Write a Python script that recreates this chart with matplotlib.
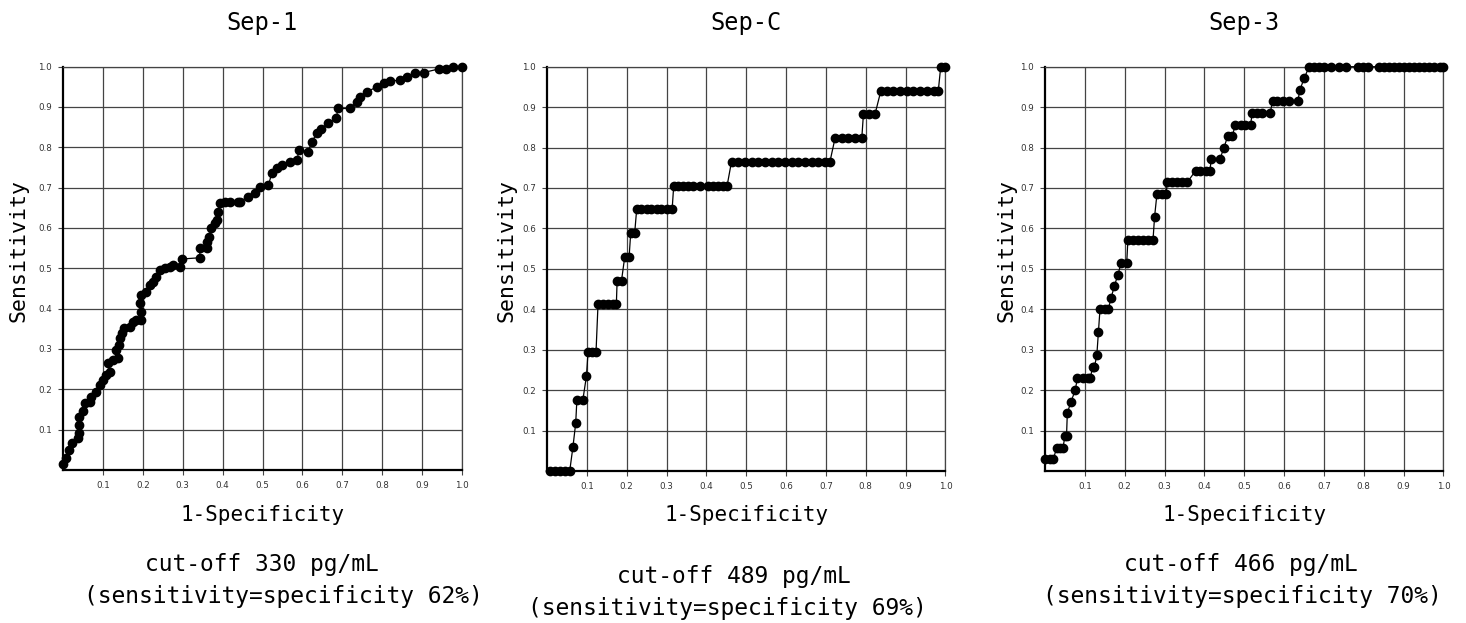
import matplotlib
matplotlib.use("Agg")
import matplotlib.pyplot as plt

# Sep-1 ROC points (1-specificity, sensitivity)
sep1_fpr = [0.0, 0.008, 0.016, 0.023, 0.037, 0.041, 0.041, 0.041, 0.05, 0.054, 0.067, 0.071, 0.083, 0.092,
            0.1, 0.108, 0.117, 0.113, 0.125, 0.138, 0.134, 0.14, 0.144, 0.149, 0.154, 0.167, 0.175, 0.184,
            0.196, 0.196, 0.192, 0.196, 0.209, 0.217, 0.225, 0.234, 0.242, 0.255, 0.268, 0.276, 0.293, 0.299,
            0.343, 0.343, 0.36, 0.361, 0.366, 0.372, 0.38, 0.385, 0.389, 0.393, 0.406, 0.418, 0.439, 0.443,
            0.464, 0.481, 0.494, 0.515, 0.523, 0.536, 0.548, 0.569, 0.586, 0.592, 0.615, 0.623, 0.637, 0.646,
            0.665, 0.685, 0.689, 0.72, 0.736, 0.745, 0.762, 0.787, 0.804, 0.82, 0.845, 0.862, 0.883, 0.904,
            0.942, 0.961, 0.978, 1.0]
sep1_tpr = [0.015, 0.03, 0.05, 0.067, 0.079, 0.092, 0.112, 0.132, 0.145, 0.166, 0.169, 0.182, 0.194, 0.21,
            0.223, 0.235, 0.244, 0.264, 0.273, 0.277, 0.297, 0.31, 0.326, 0.339, 0.351, 0.355, 0.368, 0.372,
            0.372, 0.392, 0.413, 0.434, 0.442, 0.458, 0.467, 0.479, 0.496, 0.5, 0.504, 0.508, 0.504, 0.523,
            0.526, 0.549, 0.549, 0.566, 0.578, 0.599, 0.611, 0.62, 0.64, 0.661, 0.665, 0.665, 0.665, 0.665,
            0.677, 0.686, 0.702, 0.706, 0.735, 0.748, 0.756, 0.764, 0.768, 0.793, 0.789, 0.814, 0.834, 0.845,
            0.859, 0.872, 0.896, 0.896, 0.913, 0.925, 0.937, 0.95, 0.958, 0.964, 0.966, 0.975, 0.985, 0.985,
            0.994, 0.994, 1.0, 1.0]

# Sep-C
sepc_fpr = [0.007, 0.019, 0.032, 0.044, 0.057, 0.065, 0.072, 0.075, 0.09, 0.099, 0.103, 0.113, 0.123,
            0.128, 0.141, 0.153, 0.166, 0.174, 0.176, 0.187, 0.195, 0.206, 0.21, 0.22, 0.225, 0.237, 0.25,
            0.262, 0.275, 0.287, 0.3, 0.314, 0.318, 0.329, 0.342, 0.354, 0.367, 0.384, 0.405, 0.417, 0.43,
            0.442, 0.452, 0.463, 0.48, 0.497, 0.514, 0.53, 0.547, 0.564, 0.58, 0.597, 0.614, 0.63, 0.647,
            0.664, 0.681, 0.697, 0.71, 0.723, 0.74, 0.756, 0.773, 0.79, 0.794, 0.809, 0.823, 0.838, 0.853,
            0.869, 0.886, 0.903, 0.919, 0.936, 0.953, 0.97, 0.982, 0.988, 1.0]
sepc_tpr = [0.0, 0.0, 0.0, 0.0, 0.0, 0.059, 0.118, 0.176, 0.176, 0.235, 0.294, 0.294, 0.294,
            0.412, 0.412, 0.412, 0.412, 0.412, 0.471, 0.471, 0.529, 0.529, 0.588, 0.588, 0.647, 0.647, 0.647,
            0.647, 0.647, 0.647, 0.647, 0.647, 0.706, 0.706, 0.706, 0.706, 0.706, 0.706, 0.706, 0.706, 0.706,
            0.706, 0.706, 0.765, 0.765, 0.765, 0.765, 0.765, 0.765, 0.765, 0.765, 0.765, 0.765, 0.765, 0.765,
            0.765, 0.765, 0.765, 0.765, 0.824, 0.824, 0.824, 0.824, 0.824, 0.882, 0.882, 0.882, 0.941, 0.941,
            0.941, 0.941, 0.941, 0.941, 0.941, 0.941, 0.941, 0.941, 1.0, 1.0]

# Sep-3
sep3_fpr = [0.0, 0.013, 0.021, 0.029, 0.037, 0.045, 0.05, 0.054, 0.056, 0.065, 0.076, 0.081, 0.096, 0.109,
            0.113, 0.12, 0.124, 0.13, 0.134, 0.138, 0.151, 0.159, 0.166, 0.174, 0.183, 0.191, 0.205, 0.208,
            0.221, 0.233, 0.246, 0.258, 0.271, 0.275, 0.281, 0.294, 0.304, 0.307, 0.319, 0.331, 0.344, 0.357,
            0.378, 0.39, 0.403, 0.414, 0.417, 0.439, 0.449, 0.459, 0.47, 0.478, 0.491, 0.503, 0.516, 0.52,
            0.533, 0.545, 0.565, 0.571, 0.583, 0.596, 0.612, 0.634, 0.64, 0.65, 0.663, 0.675, 0.688, 0.7,
            0.717, 0.738, 0.755, 0.785, 0.797, 0.81, 0.839, 0.851, 0.864, 0.876, 0.889, 0.902, 0.914, 0.927,
            0.939, 0.952, 0.964, 0.977, 0.99, 1.0]
sep3_tpr = [0.029, 0.029, 0.029, 0.057, 0.057, 0.057, 0.086, 0.086, 0.143, 0.171, 0.2, 0.229, 0.229, 0.229,
            0.229, 0.257, 0.257, 0.286, 0.343, 0.4, 0.4, 0.4, 0.429, 0.457, 0.486, 0.514, 0.514, 0.571,
            0.571, 0.571, 0.571, 0.571, 0.571, 0.629, 0.686, 0.686, 0.686, 0.714, 0.714, 0.714, 0.714, 0.714,
            0.743, 0.743, 0.743, 0.743, 0.771, 0.771, 0.8, 0.829, 0.829, 0.857, 0.857, 0.857, 0.857, 0.886,
            0.886, 0.886, 0.886, 0.914, 0.914, 0.914, 0.914, 0.914, 0.943, 0.971, 1.0, 1.0, 1.0, 1.0,
            1.0, 1.0, 1.0, 1.0, 1.0, 1.0, 1.0, 1.0, 1.0, 1.0, 1.0, 1.0, 1.0, 1.0,
            1.0, 1.0, 1.0, 1.0, 1.0, 1.0]

titles = ["Sep-1", "Sep-C", "Sep-3"]
cutoffs = ["cut-off 330 pg/mL", "cut-off 489 pg/mL", "cut-off 466 pg/mL"]
equal_points = ["(sensitivity=specificity 62%)", "(sensitivity=specificity 69%)",
                "(sensitivity=specificity 70%)"]
tick_vals = [0.1, 0.2, 0.3, 0.4, 0.5, 0.6, 0.7, 0.8, 0.9, 1.0]
tick_labels = ["0.1", "0.2", "0.3", "0.4", "0.5", "0.6", "0.7", "0.8", "0.9", "1.0"]

W, H = 1466, 623
mono = "DejaVu Sans Mono"

fig = plt.figure(figsize=(W / 100, H / 100), dpi=100)
fig.patch.set_facecolor("white")

# panel boxes in pixels: left, right, top, bottom; caption centres
boxes = [(63, 462, 66.5, 470), (547, 945.5, 66.7, 471), (1045, 1443.5, 66.7, 471)]
cap_y = [(564, 596), (576, 608), (564, 597)]
cap_x = [(262, 283), (734, 727), (1241, 1242)]
ylab_x = [19, 507, 1006]

data = [(sep1_fpr, sep1_tpr), (sepc_fpr, sepc_tpr), (sep3_fpr, sep3_tpr)]

for i, (l, r, t, b) in enumerate(boxes):
    ax = fig.add_axes([l / W, (H - b) / H, (r - l) / W, (b - t) / H])
    fpr, tpr = data[i]
    ax.plot(fpr, tpr, color="black", lw=0.9, marker="o", ms=6.0, mfc="black", mec="black",
            clip_on=False, zorder=3)
    ax.set_xlim(0, 1)
    ax.set_ylim(0, 1)
    ax.set_xticks(tick_vals)
    ax.set_xticklabels(tick_labels)
    ax.set_yticks(tick_vals)
    ax.set_yticklabels(tick_labels)
    ax.grid(True, color="#444444", lw=0.9)
    ax.tick_params(direction="out", length=3.5, width=0.8, color="#444444",
                   labelsize=6.3, labelcolor="#333333", pad=4.5)
    for s in ["top", "right"]:
        ax.spines[s].set_color("#444444")
        ax.spines[s].set_linewidth(0.9)
    for s in ["left", "bottom"]:
        ax.spines[s].set_color("black")
        ax.spines[s].set_linewidth(1.6)
    ax.set_axisbelow(True)

    cx = (l + r) / 2
    fig.text(cx / W, 1 - 23 / H, titles[i], ha="center", va="center", fontsize=17, family=mono)
    fig.text(cx / W, 1 - 515 / H, "1-Specificity", ha="center", va="center", fontsize=15, family=mono)
    fig.text(ylab_x[i] / W, 1 - 250 / H, "Sensitivity", ha="center", va="center", rotation=90,
             fontsize=15.5, family=mono)
    fig.text(cap_x[i][0] / W, 1 - cap_y[i][0] / H, cutoffs[i], ha="center", va="center",
             fontsize=16.5, family=mono)
    fig.text(cap_x[i][1] / W, 1 - cap_y[i][1] / H, equal_points[i], ha="center", va="center",
             fontsize=16.5, family=mono)

fig.savefig("out.png", dpi=100, facecolor="white")
